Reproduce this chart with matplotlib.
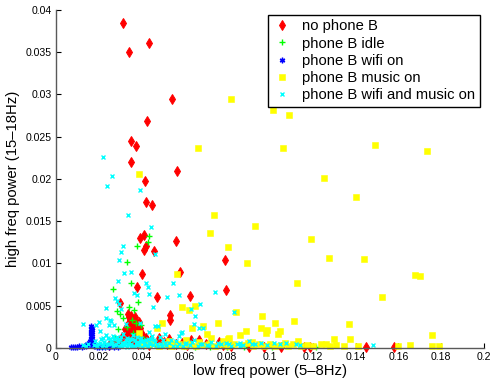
import numpy as np
import matplotlib
matplotlib.use("Agg")
import matplotlib.pyplot as plt
from matplotlib.ticker import FuncFormatter

plt.rcParams['font.family'] = ['Liberation Sans', 'DejaVu Sans']

# Data (low freq power, high freq power)

no_phone = [
    (0.0312, 0.0384), (0.0434, 0.0361), (0.0340, 0.0350), (0.0542, 0.0295),
    (0.0425, 0.0268), (0.0353, 0.0245), (0.0373, 0.0239), (0.0351, 0.0220),
    (0.0567, 0.0209), (0.0414, 0.0197), (0.0422, 0.0173), (0.0448, 0.0169),
    (0.0562, 0.0127), (0.0412, 0.0133), (0.0393, 0.0130), (0.0420, 0.0120),
    (0.0411, 0.0116), (0.0459, 0.0115), (0.0790, 0.0104), (0.0582, 0.0090),
    (0.0404, 0.0087), (0.0381, 0.0072), (0.0793, 0.0069), (0.0472, 0.0060),
    (0.0627, 0.0061), (0.0300, 0.0053), (0.0531, 0.0039), (0.0534, 0.0033),
    (0.0335, 0.0040), (0.0340, 0.0037), (0.0348, 0.0035), (0.0352, 0.0038),
    (0.0360, 0.0033), (0.0368, 0.0036), (0.0372, 0.0030), (0.0338, 0.0028),
    (0.0345, 0.0025), (0.0355, 0.0027), (0.0362, 0.0022), (0.0377, 0.0024),
    (0.0383, 0.0019), (0.0342, 0.0018), (0.0350, 0.0015), (0.0365, 0.0013),
    (0.0378, 0.0011), (0.0332, 0.0010), (0.0390, 0.0008), (0.0358, 0.0006),
    (0.0400, 0.0016), (0.0405, 0.0005), (0.0322, 0.0022), (0.0310, 0.0013),
    (0.0295, 0.0008), (0.0270, 0.0004), (0.0250, 0.0003), (0.0420, 0.0012),
    (0.0445, 0.0009), (0.0470, 0.0006), (0.0480, 0.0012), (0.0505, 0.0007),
    (0.0520, 0.0004), (0.0530, 0.0010), (0.0560, 0.0004), (0.0590, 0.0006),
    (0.0631, 0.0009), (0.0667, 0.0009), (0.0700, 0.0005), (0.0760, 0.0007),
    (0.0780, 0.0003), (0.0820, 0.0002), (0.0900, 0.0001), (0.0974, 0.0001),
    (0.1050, 0.0001), (0.1160, 0.0001), (0.1186, 0.0001), (0.1447, 0.0001),
    (0.1577, 0.0001), (0.0346, 0.0032), (0.0366, 0.0028), (0.0357, 0.0019),
    (0.0386, 0.0031), (0.0337, 0.0021), (0.0371, 0.0017), (0.0394, 0.0023),
    (0.0327, 0.0016), (0.0382, 0.0004), (0.0435, 0.0003), (0.0612, 0.0003),
]

idle = [
    (0.0437, 0.0132), (0.0432, 0.0125), (0.0378, 0.0121), (0.0331, 0.0102),
    (0.0350, 0.0077), (0.0268, 0.0070), (0.0383, 0.0054), (0.0284, 0.0044),
    (0.0343, 0.0048), (0.0367, 0.0045), (0.0300, 0.0040), (0.0315, 0.0035),
    (0.0355, 0.0033), (0.0372, 0.0030), (0.0398, 0.0027), (0.0330, 0.0025),
    (0.0290, 0.0022), (0.0362, 0.0018), (0.0385, 0.0014), (0.0410, 0.0010),
    (0.0345, 0.0009), (0.0440, 0.0006), (0.0275, 0.0012), (0.0310, 0.0005),
    (0.0465, 0.0004), (0.0500, 0.0003), (0.0550, 0.0002), (0.0600, 0.0002),
    (0.0650, 0.0001), (0.0720, 0.0001), (0.0800, 0.0001), (0.0880, 0.0001),
    (0.1010, 0.0001), (0.1215, 0.0001),
]

wifi = [
    (0.0165, 0.0026), (0.0168, 0.0024), (0.0163, 0.0022), (0.0170, 0.0021),
    (0.0166, 0.0019), (0.0162, 0.0017), (0.0169, 0.0016), (0.0165, 0.0014),
    (0.0171, 0.0012), (0.0163, 0.0011), (0.0167, 0.0009), (0.0160, 0.0008),
    (0.0172, 0.0007), (0.0158, 0.0005), (0.0166, 0.0004), (0.0150, 0.0003),
    (0.0175, 0.0003), (0.0140, 0.0002), (0.0130, 0.0002), (0.0120, 0.0001),
    (0.0110, 0.0002), (0.0100, 0.0001), (0.0090, 0.0001), (0.0080, 0.0001),
    (0.0073, 0.0001), (0.0180, 0.0002), (0.0190, 0.0001), (0.0200, 0.0001),
    (0.0215, 0.0001), (0.0230, 0.0001), (0.0250, 0.0001), (0.0270, 0.0001),
    (0.0290, 0.0001), (0.0155, 0.0006), (0.0145, 0.0004),
]

music = [
    (0.0816, 0.0294), (0.0662, 0.0236), (0.0386, 0.0206), (0.1013, 0.0282),
    (0.1088, 0.0276), (0.1060, 0.0236), (0.1490, 0.0240), (0.1734, 0.0233),
    (0.1252, 0.0201), (0.1402, 0.0178), (0.0929, 0.0144), (0.1191, 0.0129),
    (0.1276, 0.0106), (0.1439, 0.0105), (0.1677, 0.0086), (0.1702, 0.0085),
    (0.1126, 0.0077), (0.1524, 0.0060), (0.0962, 0.0038), (0.0957, 0.0023),
    (0.0987, 0.0021), (0.0980, 0.0017), (0.1023, 0.0030), (0.1046, 0.0020),
    (0.1037, 0.0016), (0.1112, 0.0032), (0.1369, 0.0028), (0.1374, 0.0011),
    (0.1299, 0.0010), (0.1132, 0.0008), (0.1262, 0.0005), (0.1756, 0.0015),
    (0.0737, 0.0157), (0.0718, 0.0136), (0.0802, 0.0119), (0.0893, 0.0100),
    (0.0564, 0.0088), (0.0587, 0.0048), (0.0621, 0.0045), (0.0650, 0.0050),
    (0.0685, 0.0026), (0.0755, 0.0030), (0.0843, 0.0042), (0.0635, 0.0023),
    (0.0706, 0.0016), (0.0724, 0.0012), (0.0804, 0.0011), (0.0860, 0.0015),
    (0.0887, 0.0020), (0.0810, 0.0012), (0.0498, 0.0029), (0.0470, 0.0023),
    (0.0386, 0.0017), (0.0529, 0.0008), (0.0606, 0.0009), (0.0573, 0.0005),
    # along the bottom
    (0.0402, 0.0003), (0.0437, 0.0004), (0.0481, 0.0002), (0.0512, 0.0005),
    (0.0538, 0.0002), (0.0566, 0.0003), (0.0598, 0.0002), (0.0627, 0.0004),
    (0.0655, 0.0002), (0.0688, 0.0003), (0.0713, 0.0005), (0.0741, 0.0002),
    (0.0774, 0.0004), (0.0806, 0.0002), (0.0833, 0.0005), (0.0868, 0.0003),
    (0.0895, 0.0006), (0.0921, 0.0002), (0.0949, 0.0004), (0.0972, 0.0002),
    (0.0998, 0.0005), (0.1024, 0.0002), (0.1052, 0.0003), (0.1083, 0.0002),
    (0.1109, 0.0004), (0.1143, 0.0002), (0.1171, 0.0003), (0.1203, 0.0002),
    (0.1238, 0.0004), (0.1281, 0.0002), (0.1309, 0.0003), (0.1346, 0.0002),
    (0.1410, 0.0002), (0.1600, 0.0002), (0.1655, 0.0003), (0.1756, 0.0002),
    (0.1790, 0.0002), (0.0455, 0.0007), (0.0552, 0.0006), (0.0669, 0.0007),
    (0.0782, 0.0008), (0.0915, 0.0007), (0.1068, 0.0006),
]

wifi_music = [
    (0.0220, 0.0226), (0.0261, 0.0204), (0.0239, 0.0191), (0.0395, 0.0187),
    (0.0336, 0.0157), (0.0446, 0.0143), (0.0314, 0.0120), (0.0304, 0.0114),
    (0.0465, 0.0111), (0.0295, 0.0104), (0.0317, 0.0089), (0.0350, 0.0090),
    (0.0289, 0.0079), (0.0420, 0.0077), (0.0428, 0.0072), (0.0365, 0.0065),
    (0.0381, 0.0062), (0.0434, 0.0064), (0.0520, 0.0060), (0.0276, 0.0059),
    (0.0287, 0.0055), (0.0453, 0.0048), (0.0233, 0.0047), (0.0126, 0.0028),
    (0.0236, 0.0035), (0.0201, 0.0031), (0.0248, 0.0027), (0.0258, 0.0032),
    (0.0273, 0.0027), (0.0208, 0.0020), (0.0326, 0.0028), (0.0393, 0.0030),
    (0.0436, 0.0019), (0.0478, 0.0026), (0.0297, 0.0052), (0.0306, 0.0046),
    (0.0674, 0.0052), (0.0631, 0.0046), (0.0648, 0.0038), (0.0643, 0.0028),
    (0.0668, 0.0023), (0.0830, 0.0042), (0.0510, 0.0016), (0.0584, 0.0017),
    (0.0576, 0.0014), (0.0741, 0.0066), (0.0573, 0.0062), (0.0545, 0.0077),
    (0.0189, 0.0027), (0.0253, 0.0033), (0.0464, 0.0026), (0.0487, 0.0013),
    (0.0589, 0.0019), (0.0687, 0.0023), (0.0862, 0.0006),
    # dense band along the bottom
    (0.0125, 0.0003), (0.0141, 0.0002), (0.0152, 0.0005), (0.0176, 0.0003),
    (0.0184, 0.0008), (0.0193, 0.0002), (0.0204, 0.0006), (0.0211, 0.0010),
    (0.0219, 0.0003), (0.0227, 0.0007), (0.0234, 0.0001), (0.0242, 0.0012),
    (0.0249, 0.0004), (0.0257, 0.0008), (0.0265, 0.0002), (0.0272, 0.0011),
    (0.0280, 0.0005), (0.0288, 0.0009), (0.0295, 0.0002), (0.0303, 0.0013),
    (0.0311, 0.0006), (0.0319, 0.0003), (0.0326, 0.0009), (0.0334, 0.0001),
    (0.0342, 0.0007), (0.0349, 0.0004), (0.0357, 0.0010), (0.0365, 0.0002),
    (0.0373, 0.0006), (0.0380, 0.0013), (0.0388, 0.0003), (0.0396, 0.0008),
    (0.0404, 0.0001), (0.0412, 0.0005), (0.0420, 0.0009), (0.0428, 0.0002),
    (0.0436, 0.0006), (0.0445, 0.0011), (0.0454, 0.0003), (0.0465, 0.0007),
    (0.0477, 0.0002), (0.0489, 0.0005), (0.0502, 0.0009), (0.0516, 0.0003),
    (0.0530, 0.0006), (0.0545, 0.0002), (0.0560, 0.0008), (0.0576, 0.0004),
    (0.0593, 0.0002), (0.0610, 0.0006), (0.0628, 0.0003), (0.0646, 0.0009),
    (0.0665, 0.0002), (0.0684, 0.0005), (0.0704, 0.0003), (0.0725, 0.0007),
    (0.0747, 0.0002), (0.0770, 0.0004), (0.0794, 0.0006), (0.0819, 0.0002),
    (0.0845, 0.0005), (0.0872, 0.0003), (0.0900, 0.0008), (0.0929, 0.0004),
    (0.0959, 0.0006), (0.0987, 0.0003), (0.1018, 0.0006), (0.1046, 0.0005),
    (0.1077, 0.0006), (0.1120, 0.0004), (0.1140, 0.0003), (0.1483, 0.0003),
    (0.0232, 0.0015), (0.0266, 0.0014), (0.0315, 0.0016), (0.0362, 0.0015),
    (0.0218, 0.0012), (0.0284, 0.0013), (0.0398, 0.0012), (0.0451, 0.0014),
    (0.0198, 0.0004), (0.0214, 0.0001), (0.0238, 0.0005), (0.0253, 0.0010),
    (0.0261, 0.0006), (0.0277, 0.0003), (0.0292, 0.0007), (0.0299, 0.0011),
    (0.0307, 0.0002), (0.0323, 0.0006), (0.0331, 0.0012), (0.0338, 0.0004),
    (0.0346, 0.0010), (0.0353, 0.0002), (0.0369, 0.0009), (0.0377, 0.0003),
    (0.0384, 0.0007), (0.0392, 0.0011), (0.0408, 0.0008), (0.0416, 0.0003),
    (0.0432, 0.0010), (0.0441, 0.0004), (0.0459, 0.0009), (0.0471, 0.0004),
    (0.0495, 0.0002), (0.0509, 0.0006), (0.0538, 0.0009), (0.0568, 0.0002),
    (0.0601, 0.0004), (0.0637, 0.0007), (0.0675, 0.0004), (0.0715, 0.0002),
    (0.0758, 0.0006), (0.0807, 0.0004), (0.0858, 0.0002), (0.0914, 0.0005),
]

series = [
    ("no phone B", no_phone, dict(marker="d", color="#ff0000", ms=5.4, mew=0.7)),
    ("phone B idle", idle, dict(marker="+", color="#00ff00", ms=5, mew=1.0)),
    ("phone B wifi on", wifi, dict(marker=(6, 2, 0), color="#0000ff", ms=4, mew=1.0)),
    ("phone B music on", music, dict(marker="s", color="#ffff00", ms=3.7, mew=0.4)),
    ("phone B wifi and music on", wifi_music, dict(marker="x", color="#00ffff", ms=3.2, mew=1.0)),
]

fig = plt.figure(figsize=(4.9, 3.81), dpi=100)
ax = fig.add_axes([0.114, 0.087, 0.874, 0.887])

for label, pts, style in series:
    arr = np.array(pts)
    ax.plot(arr[:, 0], arr[:, 1], linestyle="none", label=label,
            markeredgecolor=style["color"], markerfacecolor=style["color"],
            marker=style["marker"], markersize=style["ms"],
            markeredgewidth=style["mew"], clip_on=False)

ax.set_xlim(0, 0.2)
ax.set_ylim(0, 0.04)
ax.set_xticks(np.arange(0, 0.2001, 0.02))
ax.set_yticks(np.arange(0, 0.0401, 0.005))
fmt = FuncFormatter(lambda v, p: "%g" % round(v, 4))
ax.xaxis.set_major_formatter(fmt)
ax.yaxis.set_major_formatter(fmt)
ax.tick_params(direction="in", length=3.5, width=0.8, labelsize=7.6, pad=3,
               colors="black")

for side in ("top", "right"):
    ax.spines[side].set_visible(False)
for side in ("left", "bottom"):
    ax.spines[side].set_color("0.35")
    ax.spines[side].set_linewidth(1.0)

ax.set_xlabel("low freq power (5\u20138Hz)", fontsize=10.7, labelpad=1.5)
ax.set_ylabel("high freq power (15\u201318Hz)", fontsize=10.7, labelpad=4)

leg = ax.legend(loc="upper right", bbox_to_anchor=(0.99, 0.985),
                borderaxespad=0, fontsize=10.6, fancybox=False,
                framealpha=1, edgecolor="black", handlelength=1.2,
                handletextpad=0.8, labelspacing=0.22, borderpad=0.3,
                numpoints=1)
leg.get_frame().set_linewidth(1.0)

fig.savefig("out.png", dpi=100)
